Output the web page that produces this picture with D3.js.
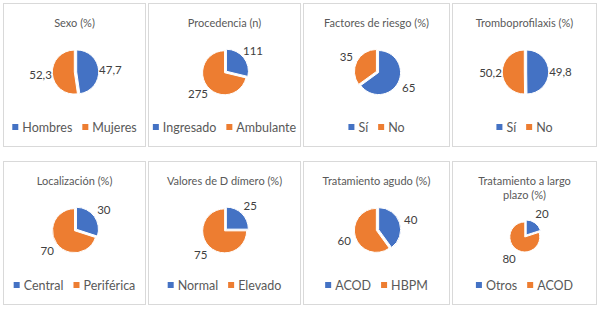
<!DOCTYPE html>
<html>
<head>
<meta charset="utf-8">
<script src="https://cdn.jsdelivr.net/npm/d3@7"></script>
<style>
  body { margin: 0; background: #fff; }
  text { font-family: Lato, "Liberation Sans", sans-serif; }
</style>
</head>
<body>
<div id="chart"></div>
<script>
// chart data
const panelTitles = [
    ["Sexo (%)"],
    ["Procedencia (n)"],
    ["Factores de riesgo (%)"],
    ["Tromboprofilaxis (%)"],
    ["Localización (%)"],
    ["Valores de D dímero (%)"],
    ["Tratamiento agudo (%)"],
    ["Tratamiento a largo", "plazo (%)"]
];
const categoryNames = [
    ["Hombres", "Mujeres"],
    ["Ingresado", "Ambulante"],
    ["Sí", "No"],
    ["Sí", "No"],
    ["Central", "Periférica"],
    ["Normal", "Elevado"],
    ["ACOD", "HBPM"],
    ["Otros", "ACOD"]
];
const seriesValues = [
    [47.7, 52.3],
    [111, 275],
    [65, 35],
    [49.8, 50.2],
    [30, 70],
    [25, 75],
    [40, 60],
    [20, 80]
];

const width = 600, height = 310;
const colors = ["#4472C4", "#ED7D31"];

// panel layout
const colX = [3, 148, 303, 452];
const colW = [143, 153, 147, 145];
const rowY = [3, 161];
const rowH = 144;

const svg = d3.select("#chart")
    .append("svg")
    .attr("width", width)
    .attr("height", height);

const pie = d3.pie()
    .sort(null)
    .value((d) => d);

const fmt = (v) => String(v).replace(".", ",");

seriesValues.forEach((vals, i) => {
    const col = i % 4, row = Math.floor(i / 4);
    const px = colX[col], py = rowY[row], pw = colW[col];

    const g = svg.append("g")
        .attr("transform", `translate(${px}, ${py})`);

    g.append("rect")
        .attr("x", 0.5)
        .attr("y", 0.5)
        .attr("width", pw - 1)
        .attr("height", rowH - 1)
        .attr("fill", "#fff")
        .attr("stroke", "#d9d9d9")
        .attr("stroke-width", 1);

    // title
    const title = panelTitles[i];
    title.forEach((line, k) => {
        g.append("text")
            .attr("x", pw / 2)
            .attr("y", 19 + k * 14)
            .attr("text-anchor", "middle")
            .attr("dominant-baseline", "central")
            .attr("font-size", 11)
            .attr("fill", "#595959")
            .text(line);
    });

    const twoLine = title.length > 1;
    const r = twoLine ? 15 : 22;
    const cx = pw / 2 + 1;
    const cy = twoLine ? 75 : 69;

    const arc = d3.arc()
        .innerRadius(0)
        .outerRadius(r);

    const pieG = g.append("g")
        .attr("transform", `translate(${cx}, ${cy})`);

    const arcs = pie(vals);
    const explode = 1.2;

    pieG.selectAll("path")
        .data(arcs)
        .join("path")
        .attr("d", arc)
        .attr("transform", (d) => {
            const a = (d.startAngle + d.endAngle) / 2;
            return `translate(${Math.sin(a) * explode}, ${-Math.cos(a) * explode})`;
        })
        .attr("fill", (d, j) => colors[j])
        .attr("stroke", "#fff")
        .attr("stroke-width", 1);

    const labelDist = r + 13;
    pieG.selectAll("text.lbl")
        .data(arcs)
        .join("text")
        .attr("class", "lbl")
        .attr("x", (d) => Math.sin((d.startAngle + d.endAngle) / 2) * labelDist)
        .attr("y", (d) => -Math.cos((d.startAngle + d.endAngle) / 2) * labelDist)
        .attr("text-anchor", "middle")
        .attr("dominant-baseline", "central")
        .attr("font-size", 11.5)
        .attr("fill", "#404040")
        .text((d) => fmt(d.data));

    // legend
    const leg = g.append("g");
    let lx = 0;
    categoryNames[i].forEach((name, j) => {
        leg.append("rect")
            .attr("x", lx)
            .attr("y", -3)
            .attr("width", 6)
            .attr("height", 6)
            .attr("fill", colors[j]);
        const t = leg.append("text")
            .attr("x", lx + 10)
            .attr("y", 0)
            .attr("dominant-baseline", "central")
            .attr("font-size", 12.5)
            .attr("fill", "#595959")
            .text(name);
        lx += 10 + t.node().getComputedTextLength() + 10;
    });
    const legW = lx - 10;
    leg.attr("transform", `translate(${(pw - legW) / 2}, 124)`);
});
</script>
</body>
</html>
